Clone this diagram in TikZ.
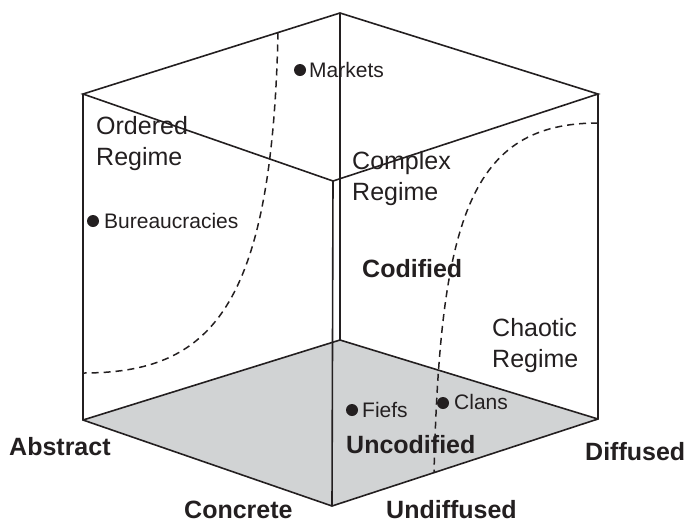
\documentclass[tikz,border=0pt]{standalone}
\usepackage{fontspec}
\setmainfont{Liberation Sans}
\definecolor{ink}{HTML}{231F20}
\definecolor{floorgray}{HTML}{D1D3D4}
\begin{document}
\begin{tikzpicture}[x=1pt,y=-1pt,
  edge/.style={draw=ink,line width=1.6pt,line join=miter},
  bound/.style={draw=ink,line width=1.5pt,dash pattern=on 7pt off 5pt},
  regime/.style={font=\fontsize{25}{31}\selectfont,text=ink,inner sep=0pt,anchor=base west,align=left},
  axislabel/.style={font=\fontsize{25}{30}\selectfont\bfseries,text=ink,inner sep=0pt,anchor=base west},
  dotlabel/.style={font=\fontsize{21}{25}\selectfont,text=ink,inner sep=0pt,anchor=base west},
  dot/.style={circle,fill=ink,minimum size=12pt,inner sep=0pt}]
\useasboundingbox (0,0) rectangle (688,523);
% cube vertices
\coordinate (TB) at (340,13);
\coordinate (TL) at (83,94);
\coordinate (TF) at (333,181);
\coordinate (TR) at (598,94);
\coordinate (BB) at (340,340);
\coordinate (BL) at (83,420);
\coordinate (BF) at (332,506);
\coordinate (BR) at (598,419);
% shaded floor
\fill[floorgray] (BB) -- (BR) -- (BF) -- (BL) -- cycle;
% edges
\draw[edge] (TL) -- (TB) -- (TR) -- (TF) -- cycle;
\draw[edge] (TL) -- (BL) -- (BF) -- (BR) -- (TR);
\draw[edge] (TF) -- (BF);
\draw[edge] (TB) -- (BB);
\draw[edge] (BL) -- (BB) -- (BR);
% regime boundaries
\coordinate (L1) at (278,32.5);
\coordinate (L2) at (83,373);
\coordinate (R1) at (598,123);
\coordinate (R2) at (434,473);
\draw[bound] (L1) .. controls (272,310) and (210,373) .. (L2);
\draw[bound] (R1) .. controls (470,123) and (440,220) .. (R2);
% regime labels
\node[regime] (ordered) at (96,165) {Ordered\\Regime};
\node[regime] (complex) at (352,200) {Complex\\Regime};
\node[regime] (chaotic) at (492,367) {Chaotic\\Regime};
% axis labels
\node[axislabel] (codified) at (362,277) {Codified};
\node[axislabel] (uncodified) at (346,453) {Uncodified};
\node[axislabel] (abstract) at (9,455) {Abstract};
\node[axislabel] (concrete) at (184,518) {Concrete};
\node[axislabel] (diffused) at (585,460) {Diffused};
\node[axislabel] (undiffused) at (386,518.5) {Undiffused};
% institutions
\node[dot] (dmk) at (300,70) {};
\node[dotlabel] (markets) at (309,77) {Markets};
\node[dot] (dbu) at (93,221) {};
\node[dotlabel] (bureau) at (104,228) {Bureaucracies};
\node[dot] (dfi) at (352,410) {};
\node[dotlabel] (fiefs) at (362,417) {Fiefs};
\node[dot] (dcl) at (443,403) {};
\node[dotlabel] (clans) at (454,409) {Clans};
\end{tikzpicture}
\end{document}
